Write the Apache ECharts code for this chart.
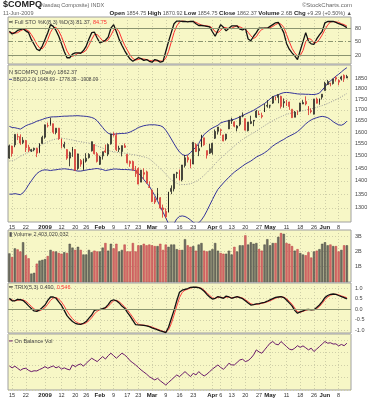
<!DOCTYPE html>
<html><head><meta charset="utf-8">
<script src="https://cdn.jsdelivr.net/npm/echarts@6/dist/echarts.min.js"></script>
<style>html,body{margin:0;padding:0;background:#fff}#c{width:374px;height:400px}</style>
</head><body><div id="c"></div>
<script>
const dates = ['2008-12-12','2008-12-15','2008-12-16','2008-12-17','2008-12-18','2008-12-19','2008-12-22','2008-12-23','2008-12-24','2008-12-26','2008-12-29','2008-12-30','2008-12-31',
'2009-01-02','2009-01-05','2009-01-06','2009-01-07','2009-01-08','2009-01-09','2009-01-12','2009-01-13','2009-01-14','2009-01-15','2009-01-16','2009-01-20','2009-01-21','2009-01-22','2009-01-23','2009-01-26','2009-01-27','2009-01-28','2009-01-29','2009-01-30',
'2009-02-02','2009-02-03','2009-02-04','2009-02-05','2009-02-06','2009-02-09','2009-02-10','2009-02-11','2009-02-12','2009-02-13','2009-02-17','2009-02-18','2009-02-19','2009-02-20','2009-02-23','2009-02-24','2009-02-25','2009-02-26','2009-02-27',
'2009-03-02','2009-03-03','2009-03-04','2009-03-05','2009-03-06','2009-03-09','2009-03-10','2009-03-11','2009-03-12','2009-03-13','2009-03-16','2009-03-17','2009-03-18','2009-03-19','2009-03-20','2009-03-23','2009-03-24','2009-03-25','2009-03-26','2009-03-27','2009-03-30','2009-03-31',
'2009-04-01','2009-04-02','2009-04-03','2009-04-06','2009-04-07','2009-04-08','2009-04-09','2009-04-13','2009-04-14','2009-04-15','2009-04-16','2009-04-17','2009-04-20','2009-04-21','2009-04-22','2009-04-23','2009-04-24','2009-04-27','2009-04-28','2009-04-29','2009-04-30',
'2009-05-01','2009-05-04','2009-05-05','2009-05-06','2009-05-07','2009-05-08','2009-05-11','2009-05-12','2009-05-13','2009-05-14','2009-05-15','2009-05-18','2009-05-19','2009-05-20','2009-05-21','2009-05-22','2009-05-26','2009-05-27','2009-05-28','2009-05-29',
'2009-06-01','2009-06-02','2009-06-03','2009-06-04','2009-06-05','2009-06-08','2009-06-09','2009-06-10','2009-06-11'];

const open = [1490,1540,1545,1580,1580,1555,1563,1535,1520,1525,1530,1515,1551,
1578,1628,1635,1637,1598,1617,1570,1537,1525,1490,1520,1525,1448,1480,1445,1478,1492,1520,1545,1508,
1465,1499,1520,1506,1549,1588,1585,1526,1517,1541,1505,1477,1476,1428,1448,1395,1432,1435,1375,
1365,1333,1333,1337,1300,1288,1285,1360,1370,1429,1438,1404,1460,1492,1483,1466,1546,1520,1538,1575,1521,1510,
1513,1573,1603,1610,1587,1570,1614,1650,1644,1617,1634,1672,1660,1606,1638,1650,1666,1678,1669,1690,1721,
1718,1732,1760,1773,1764,1733,1720,1737,1703,1666,1684,1695,1728,1740,1717,1696,1680,1751,1737,1760,
1792,1822,1827,1827,1857,1834,1850,1868,1854.75];
const high = [1546,1541,1590,1593,1590,1578,1566,1545,1528,1533,1533,1551,1584,
1632,1642,1664,1637,1617,1618,1572,1558,1527,1517,1536,1527,1508,1486,1488,1510,1510,1559,1548,1515,
1500,1517,1546,1551,1592,1599,1595,1541,1542,1551,1506,1480,1480,1458,1452,1442,1449,1440,1398,
1367,1341,1373,1339,1312,1299,1358,1383,1426,1435,1444,1462,1503,1502,1487,1556,1552,1546,1588,1575,1521,1549,
1554,1611,1622,1614,1588,1592,1653,1664,1648,1630,1671,1688,1660,1645,1673,1653,1700,1696,1687,1729,1746,
1724,1764,1764,1773,1767,1754,1747,1738,1703,1695,1698,1733,1746,1764,1717,1707,1752,1758,1754,1774,
1836,1845,1831,1850,1864,1848,1866,1873,1870.92];
const low = [1487,1496,1535,1565,1545,1548,1515,1515,1515,1518,1494,1510,1549,
1571,1620,1628,1592,1590,1566,1530,1530,1483,1457,1495,1440,1443,1455,1440,1472,1488,1517,1505,1472,
1462,1484,1511,1498,1546,1580,1519,1515,1497,1532,1468,1455,1440,1415,1387,1395,1405,1390,1373,
1321,1314,1329,1295,1266,1265,1284,1350,1360,1410,1401,1398,1452,1472,1449,1466,1515,1498,1535,1541,1488,1507,
1504,1570,1589,1585,1560,1563,1613,1636,1621,1603,1626,1666,1606,1603,1635,1626,1663,1676,1661,1690,1710,
1707,1728,1745,1731,1706,1710,1718,1700,1663,1666,1676,1692,1727,1721,1676,1684,1679,1730,1724,1749,
1792,1820,1813,1822,1837,1818,1842,1835,1854.75];
const close = [1540.72,1508.34,1589.89,1579.31,1552.37,1564.32,1532.35,1521.54,1524.90,1530.24,1510.32,1550.70,1577.03,
1632.21,1628.03,1652.38,1599.06,1617.01,1571.59,1538.79,1546.46,1489.64,1511.84,1529.33,1440.86,1507.07,1465.49,1477.29,1489.46,1504.90,1558.34,1507.84,1476.42,
1494.43,1516.30,1515.05,1546.24,1591.71,1591.56,1524.73,1530.50,1541.71,1534.36,1470.66,1467.97,1442.82,1441.23,1387.72,1441.83,1425.43,1391.47,1377.84,
1322.85,1321.01,1353.74,1299.59,1293.85,1268.64,1358.28,1371.64,1426.10,1431.50,1404.02,1462.11,1491.22,1483.05,1457.27,1555.77,1516.52,1528.95,1587.00,1545.20,1501.80,1528.59,
1551.60,1602.63,1621.87,1606.71,1561.61,1590.66,1652.54,1653.31,1625.72,1626.80,1670.44,1673.07,1608.21,1643.85,1646.12,1652.21,1694.29,1679.05,1673.81,1711.40,1717.30,
1719.20,1763.56,1754.12,1759.10,1716.24,1739.00,1731.24,1715.92,1664.19,1689.21,1680.14,1732.36,1734.54,1727.84,1695.25,1692.01,1750.43,1731.08,1751.79,1774.33,
1828.68,1836.80,1825.92,1850.02,1849.42,1842.40,1860.13,1853.08,1862.37];

const volumeB = [1.87,1.64,2.20,2.13,2.00,2.60,1.75,1.55,0.55,0.60,
1.20,1.40,1.45,1.50,1.70,2.10,2.00,2.00,1.90,1.85,
1.95,1.90,2.50,2.25,2.10,2.30,2.10,1.80,1.80,2.10,
1.95,2.05,2.00,2.00,2.25,2.55,2.05,2.50,2.20,2.50,
2.00,2.10,2.45,2.00,2.00,2.55,2.00,2.40,2.40,2.50,
2.40,2.45,2.40,2.35,2.35,2.50,2.10,2.45,2.30,2.45,
2.45,2.15,2.10,2.10,2.80,2.40,2.30,2.35,2.05,2.45,
2.55,2.05,2.00,2.05,2.15,2.55,2.05,1.90,1.85,1.85,
2.05,1.80,2.30,2.00,2.40,2.40,3.05,2.45,2.60,2.50,
2.55,2.15,2.05,2.45,2.80,2.40,2.55,2.55,2.95,3.20,
3.15,2.55,2.50,2.35,2.05,2.15,1.90,1.80,1.75,1.95,
1.60,2.00,2.05,2.15,2.50,2.60,2.40,2.45,2.35,2.35,
2.00,2.10,2.40,2.40];

const stoK = [73,67,70,75,77,79,74,70,55,44,
33,30,40,55,70,88,84,75,62,45,
28,14,14,22,25,25,24,30,40,56,
70,71,58,47,50,53,60,80,88,72,
55,42,30,20,11,6,10,14,12,8,
10,6,4,10,8,4,6,28,50,70,
90,96,96,95,95,94,95,95,90,86,
86,85,84,83,72,62,75,88,82,74,
80,85,85,85,78,76,80,56,52,62,
70,80,80,80,80,84,88,92,93,82,
70,46,33,25,18,10,30,50,70,51,
45,44,56,65,73,92,95,95,95,93,
90,88,85,81.37];
const stoD = [70,70,69,70,74,77,77,74,66,56,
44,36,34,42,55,71,81,82,74,61,
45,29,19,17,20,24,25,26,31,42,
55,66,66,59,52,50,54,64,76,80,
72,56,42,31,20,12,9,10,12,11,
10,8,7,7,7,7,6,13,28,49,
70,85,94,96,95,95,95,95,93,90,
87,86,85,84,80,72,70,75,82,81,
79,80,83,85,83,80,78,71,63,57,
61,71,77,80,80,81,84,88,91,89,
82,66,50,35,25,18,19,30,50,57,
55,47,48,55,65,77,87,94,95,94,
93,90,88,84.75];

const bbUpper = [1625,1620,1619,1616,1613,1620,1628,1633,1637,1642,1648,1652,
1656,1661,1664,1667,1668,1668,1669,1670,1671,1671,
1672,1672,1673,1673,1672,1671,1670,1668,1665,1660,
1650,1635,1620,1605,1595,1590,1590,1592,1593,1594,
1594,1596,1600,1606,1612,1620,1624,1628,1630,1632,
1632,1632,1630,1628,1622,1608,1590,1570,1550,1531,
1515,1505,1500,1503,1512,1525,1535,1550,1572,1590,
1600,1610,1618,1624,1630,1640,
1645,1648,1651,1654,1657,1662,1668,1674,1680,1686,
1692,1698,1706,1714,1722,1730,1740,1752,1762,1768,
1772,1778,1782,1783,1782,1780,1778,1776,1775,1775,
1774,1774,1773,1773,1775,1780,1795,1810,1828,1840,
1852,1864,1874,1886,1898,1908];
const bbMid = [1478,1480,1483,1490,1497,1503,1508,1513,1518,1523,1530,1540,
1547,1553,1558,1563,1567,1570,1572,1573,1572,1570,
1567,1566,1562,1560,1558,1556,1554,1552,1549,1545,
1540,1535,1531,1526,1522,1518,1516,1514,1512,1511,
1510,1508,1506,1504,
1503,1500,1497,1495,1492,1487,1478,1468,1458,1448,1438,1426,1414,1404,1396,1391,1387,
1386,1386,1387,1389,1393,1398,1404,1412,1422,
1432,1443,1455,1467,1479,1490,1500,1510,1520,1530,
1540,1550,1560,1568,1576,1583,1590,1597,1604,1612,
1620,1628,1636,1643,1650,1657,1663,1669,1674,1679,
1683,1686,1688,1690,1693,1696,1699,1702,1705,1708,
1712,1716,1720,1725,1730,1736,1742,1748,1755,1762,
1770,1778];
const bbLower = [1350,1350,1352,1350,1348,1355,1368,1385,1400,1415,1428,1436,1441,
1443,1442,1440,1442,1443,1445,1446,1447,1446,1444,1443,1440,1438,1438,1440,1442,1444,1445,1447,1448,1446,1444,1440,1442,1444,1446,1446,1445,1444,1444,
1444,1443,1442,
1440,1430,1418,1405,1392,1380,1362,1345,1325,1305,
1285,1265,1245,1238,1245,1262,1270,1272,1270,1265,
1258,1250,1245,1248,1258,1272,1290,1310,1330,1350,
1368,1380,1392,1403,1414,1424,1434,1442,1450,1458,
1466,1472,1478,1486,1494,1500,1505,1512,1520,1530,
1540,1548,1555,1562,1568,1576,1582,1588,1594,1602,
1612,1624,1636,1646,1654,1660,1664,1668,1670,1668,
1664,1656,1646,1638,1632,1630,1636,1648];

const trix = [0.52,0.40,0.40,0.47,0.45,0.41,0.30,0.16,0.04,-0.08,
-0.10,-0.03,0.08,0.20,0.42,0.58,0.58,0.52,0.35,0.18,
-0.05,-0.30,-0.45,-0.58,-0.66,-0.70,-0.71,-0.66,-0.58,-0.42,
-0.27,-0.05,-0.02,0.00,0.03,0.08,0.22,0.40,0.45,0.40,
0.30,0.15,0.05,-0.15,-0.32,-0.52,-0.72,-0.74,-0.75,-0.76,
-0.78,-0.82,-0.88,-0.92,-0.97,-1.02,-1.06,-1.10,-0.85,-0.45,
-0.05,0.40,0.80,0.90,0.94,0.98,1.03,1.05,1.04,1.02,
0.96,0.85,0.70,0.58,0.48,0.52,0.60,0.56,0.52,0.62,
0.58,0.52,0.56,0.60,0.55,0.50,0.40,0.30,0.20,0.22,
0.25,0.27,0.30,0.33,0.38,0.44,0.50,0.56,0.58,0.60,
0.55,0.44,0.30,0.16,-0.05,-0.19,-0.12,-0.08,-0.02,0.00,
-0.03,-0.02,0.08,0.20,0.36,0.55,0.65,0.70,0.72,0.70,
0.65,0.60,0.55,0.49];
const trixSignal = [0.45,0.44,0.40,0.42,0.45,0.44,0.38,0.27,0.14,0.02,
-0.06,-0.07,-0.01,0.08,0.24,0.42,0.53,0.56,0.48,0.34,
0.15,-0.08,-0.28,-0.44,-0.57,-0.65,-0.69,-0.69,-0.64,-0.54,
-0.40,-0.22,-0.09,-0.02,0.01,0.05,0.13,0.28,0.40,0.42,
0.36,0.24,0.12,-0.03,-0.20,-0.38,-0.58,-0.70,-0.74,-0.75,
-0.77,-0.80,-0.84,-0.89,-0.94,-0.99,-1.04,-1.08,-0.98,-0.68,
-0.28,0.15,0.55,0.80,0.90,0.95,1.00,1.03,1.04,1.03,
0.99,0.90,0.78,0.65,0.54,0.51,0.56,0.57,0.54,0.57,
0.58,0.55,0.55,0.58,0.57,0.53,0.45,0.36,0.26,0.22,
0.23,0.25,0.28,0.31,0.35,0.40,0.46,0.52,0.56,0.59,
0.57,0.50,0.38,0.24,0.06,-0.12,-0.14,-0.10,-0.05,-0.01,
-0.02,-0.02,0.03,0.13,0.28,0.45,0.58,0.66,0.70,0.71,
0.68,0.63,0.59,0.546];

const obvB = [24.8,22.5,24.5,22.0,19.5,21.5,22.0,19.5,18.0,19.0,
18.8,20.5,22.0,24.0,22.0,23.5,24.8,22.5,24.0,21.0,
22.5,21.0,20.0,26.0,24.0,26.0,27.2,24.5,28.0,31.0,
34.0,32.0,30.0,33.0,36.0,33.0,37.0,40.0,37.0,34.0,
37.0,40.0,38.0,35.0,31.0,28.5,26.0,23.0,20.0,17.5,
15.0,12.0,10.0,8.0,10.0,7.0,4.5,2.0,5.0,8.0,
11.0,14.0,12.0,15.0,18.0,15.0,12.0,16.0,14.0,18.0,
15.0,12.8,15.0,18.0,21.0,23.5,26.0,23.0,20.8,24.0,
28.0,26.0,26.0,29.0,32.0,32.8,30.0,31.2,34.0,38.0,
44.0,41.5,40.0,44.0,48.0,52.0,54.0,51.0,50.0,54.0,
51.0,48.0,45.0,44.0,46.0,49.0,47.0,48.8,46.5,44.0,
46.0,42.0,45.0,48.0,51.0,54.0,52.0,52.5,51.0,51.2,
48.8,50.5,49.0,52.0];

const tickDates = ['2008-12-15','2008-12-22','2009-01-02','2009-01-12','2009-01-20','2009-01-26','2009-02-02','2009-02-09','2009-02-17','2009-02-23','2009-03-02','2009-03-09','2009-03-16','2009-03-23','2009-04-01','2009-04-06','2009-04-13','2009-04-20','2009-04-27','2009-05-01','2009-05-11','2009-05-18','2009-05-26','2009-06-01','2009-06-08'];
const tickText = ['15','22','2009','12','20','26','Feb','9','17','23','Mar','9','16','23','Apr','6','13','20','27','May','11','18','26','Jun','8'];
const boldTicks = ['2009','Feb','Mar','Apr','May','Jun'];
const priceTicks = [1300,1350,1400,1450,1500,1550,1600,1650,1700,1750,1800,1850];
const stoTicks = [20,50,80];
const volTicks = [1,2,3];
const trixTicks = [-1,-0.5,0,0.5,1];

const FONT = '"Liberation Sans", Arial, sans-serif';
const BG = '#f7f7c6';
const xCats = dates.concat(['']);
const tickMap = {};
tickDates.forEach((d, i) => { tickMap[d] = tickText[i]; });
const isTick = (idx, val) => tickMap[val] !== undefined;

const L = 8, R = 23;
const grids = [
  {top: 17, height: 47}, {top: 65, height: 157}, {top: 230, height: 52}, {top: 283, height: 50}, {top: 334, height: 56}
].map(g => Object.assign({left: L, right: R, show: true, backgroundColor: BG, borderColor: '#a0a0a0', borderWidth: 1}, g));

function xAx(gi, showLabels) {
  return {
    type: 'category', gridIndex: gi, data: xCats, boundaryGap: true,
    axisLine: {show: false}, axisTick: {show: false, interval: isTick, alignWithLabel: true},
    axisLabel: {show: showLabels, interval: isTick, margin: showLabels ? 2 : 0, fontSize: 5.5, fontFamily: FONT, color: '#333',
      formatter: v => { const t = tickMap[v]; return boldTicks.indexOf(t) >= 0 ? '{m|' + t + '}' : t; },
      rich: {m: {fontWeight: 'bold', fontSize: 6, fontFamily: FONT, color: '#222'}}},
    splitLine: {show: true, interval: isTick, alignWithLabel: true, lineStyle: {color: '#cfcfa8', type: [1, 2], width: 1}}
  };
}
const yLabel = {fontSize: 5.5, fontFamily: FONT, color: '#444', margin: 4};
const dotted = {show: true, lineStyle: {color: '#cfcfa8', type: [1, 2], width: 1}};

const candleData = dates.map((d, i) => {
  const prev = i > 0 ? close[i - 1] : open[i];
  const down = close[i] < prev;
  const stroke = down ? '#d42a2a' : '#1a1a1a';
  return {value: [open[i], close[i], low[i], high[i]],
    itemStyle: {color: BG, color0: down ? '#eaa0a0' : '#777', borderColor: stroke, borderColor0: stroke, borderWidth: 0.8}};
});
const volData = volumeB.map((v, i) => {
  const down = i > 0 && close[i] < close[i - 1];
  return {value: v, itemStyle: {color: down ? '#d66b6b' : '#6f6f63', borderColor: down ? '#b84040' : '#4a4a40', borderWidth: 0.5}};
});

const line = (xi, yi, data, color, width, extra) => Object.assign({type: 'line', xAxisIndex: xi, yAxisIndex: yi, data: data, symbol: 'none',
  lineStyle: {color: color, width: width}, itemStyle: {color: color}, silent: true}, extra || {});

const option = {
  animation: false,
  grid: grids,
  xAxis: [xAx(0, false), xAx(1, true), xAx(2, false), xAx(3, false), xAx(4, true)],
  yAxis: [
    {type: 'value', gridIndex: 0, position: 'right', min: 0, max: 105,
      axisLine: {show: false}, axisTick: {show: false, customValues: stoTicks},
      axisLabel: Object.assign({customValues: stoTicks}, yLabel), splitLine: {show: false}},
    {type: 'log', gridIndex: 1, position: 'right', min: 1251, max: 1922, logBase: 10,
      axisLine: {show: false}, axisTick: {show: false, customValues: priceTicks},
      axisLabel: Object.assign({customValues: priceTicks, formatter: v => String(Math.round(v))}, yLabel), splitLine: dotted},
    {type: 'value', gridIndex: 2, position: 'right', min: 0, max: 3.4,
      axisLine: {show: false}, axisTick: {show: false, customValues: volTicks},
      axisLabel: Object.assign({customValues: volTicks, formatter: v => v + 'B'}, yLabel), splitLine: dotted},
    {type: 'value', gridIndex: 3, position: 'right', min: -1.12, max: 1.24,
      axisLine: {show: false}, axisTick: {show: false, customValues: trixTicks},
      axisLabel: Object.assign({customValues: trixTicks, formatter: v => Number(v).toFixed(1)}, yLabel), splitLine: dotted},
    {type: 'value', gridIndex: 4, position: 'right', min: -4, max: 63, interval: 15,
      axisLine: {show: false}, axisTick: {show: false}, axisLabel: {show: false}, splitLine: dotted}
  ],
  series: [
    line(0, 0, stoK, '#111', 1.3, {z: 4, markLine: {silent: true, symbol: 'none', label: {show: false},
      data: [
        {yAxis: 80, lineStyle: {color: '#8a9470', type: 'solid', width: 1}},
        {yAxis: 20, lineStyle: {color: '#8a9470', type: 'solid', width: 1}},
        {yAxis: 50, lineStyle: {color: '#8a9470', type: [5, 2, 1, 2], width: 1}}
      ]}}),
    line(0, 0, stoD, '#ff3030', 1, {z: 3}),
    line(1, 1, bbMid, '#999999', 1, {lineStyle: {color: '#999999', width: 1, type: [1, 1.5]}}),
    line(1, 1, bbUpper, '#34349a', 1),
    line(1, 1, bbLower, '#34349a', 1),
    {type: 'candlestick', xAxisIndex: 1, yAxisIndex: 1, data: candleData, barMaxWidth: 1.6, silent: true, z: 5},
    {type: 'bar', xAxisIndex: 2, yAxisIndex: 2, data: volData, barCategoryGap: '18%', silent: true},
    line(3, 3, trixSignal, '#ff4040', 1, {z: 3, markLine: {silent: true, symbol: 'none', label: {show: false},
      data: [{yAxis: 0, lineStyle: {color: '#8a9470', type: 'solid', width: 1}}]}}),
    line(3, 3, trix, '#111', 1.3, {z: 4}),
    line(4, 4, obvB, '#6a1a6a', 1)
  ],
  graphic: [
    {type: 'text', x: 3, y: 5, style: {text: '$COMPQ', font: 'bold 9px ' + FONT, fill: '#222', verticalAlign: 'middle'}},
    {type: 'text', x: 39, y: 5.5, style: {text: '(Nasdaq Composite) INDX', font: '5.5px ' + FONT, fill: '#666', verticalAlign: 'middle'}},
    {type: 'text', x: 352, y: 5.5, style: {text: '©StockCharts.com', font: '6px ' + FONT, fill: '#666', align: 'right', verticalAlign: 'middle'}},
    {type: 'text', x: 3, y: 13.5, style: {text: '11-Jun-2009', font: '5.5px ' + FONT, fill: '#666', verticalAlign: 'middle'}},
    {type: 'text', x: 352, y: 13.5, style: {
      text: '{b|Open} 1854.75 {b|High} 1870.92 {b|Low} 1854.75 {b|Close} 1862.37 {b|Volume} 2.6B {b|Chg} +9.29 (+0.50%) ▲',
      font: '5.5px ' + FONT, fill: '#555', align: 'right', verticalAlign: 'middle',
      rich: {b: {font: 'bold 6px ' + FONT, fill: '#222'}}}},
    {type: 'text', x: 9, y: 22.5, z: 100, style: {text: '{k|━} Full STO %K(8,3) %D(3) 81.37, {r|84.75}', font: '5.5px ' + FONT, fill: '#444', verticalAlign: 'middle',
      rich: {k: {fill: '#111', font: '5.5px ' + FONT}, r: {fill: '#ff3030', font: '5.5px ' + FONT}}}},
    {type: 'text', x: 9, y: 72, z: 100, style: {text: 'N $COMPQ (Daily) 1862.37', font: '5.5px ' + FONT, fill: '#444', verticalAlign: 'middle'}},
    {type: 'text', x: 9, y: 79.5, z: 100, style: {text: '{k|━} BB(20,2.0) 1648.69 - 1778.39 - 1908.09', font: '4.8px ' + FONT, fill: '#444', verticalAlign: 'middle',
      rich: {k: {fill: '#34349a', font: '4.8px ' + FONT}}}},
    {type: 'text', x: 9, y: 234, z: 100, style: {text: '{k|▮} Volume 2,403,020,032', font: '5.5px ' + FONT, fill: '#444', verticalAlign: 'middle',
      rich: {k: {fill: '#555', font: '5.5px ' + FONT}}}},
    {type: 'text', x: 9, y: 287.5, z: 100, style: {text: '{k|━} TRIX(5,3) 0.490, {r|0.546}', font: '5.5px ' + FONT, fill: '#444', verticalAlign: 'middle',
      rich: {k: {fill: '#111', font: '5.5px ' + FONT}, r: {fill: '#ff3030', font: '5.5px ' + FONT}}}},
    {type: 'text', x: 9, y: 341, z: 100, style: {text: '{k|━} On Balance Vol', font: '5.5px ' + FONT, fill: '#444', verticalAlign: 'middle',
      rich: {k: {fill: '#6a1a6a', font: '5.5px ' + FONT}}}}
  ]
};
echarts.init(document.getElementById('c'), null, {renderer: 'canvas'}).setOption(option);
</script>
</body></html>
